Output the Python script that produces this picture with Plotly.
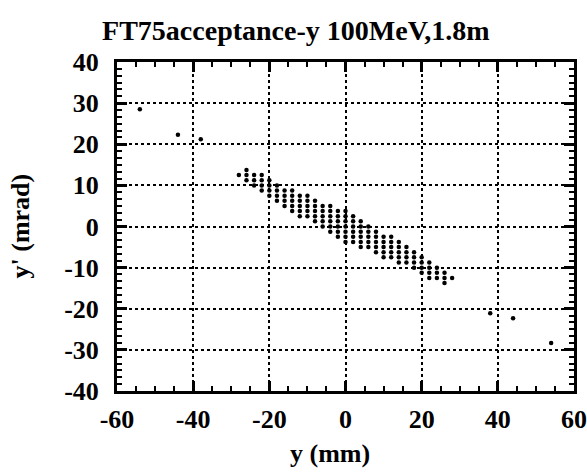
import plotly.graph_objects as go

# ---- data ----
# dense band: one entry per column (y in mm) with the accepted y' values (mrad)
BAND_X = [-28, -26, -24, -22, -20, -18, -16, -14, -12, -10, -8, -6, -4, -2, 0,
          2, 4, 6, 8, 10, 12, 14, 16, 18, 20, 22, 24, 26, 28]
BAND_YP = [
    [12.5],
    [13.75, 12.5, 11.25],
    [12.5, 11.25, 10.0],
    [12.5, 11.25, 10.0, 8.75],
    [11.25, 10.0, 8.75, 7.5],
    [10.0, 8.75, 7.5, 6.25],
    [8.75, 7.5, 6.25, 5.0],
    [8.75, 7.5, 6.25, 5.0, 3.75],
    [7.5, 6.25, 5.0, 3.75, 2.5],
    [7.5, 6.25, 5.0, 3.75, 2.5],
    [6.25, 5.0, 3.75, 2.5, 1.25],
    [5.0, 3.75, 2.5, 1.25, 0.0],
    [5.0, 3.75, 2.5, 1.25, 0.0, -1.25],
    [3.75, 2.5, 1.25, 0.0, -1.25, -2.5],
    [3.75, 2.5, 1.25, 0.0, -1.25, -2.5, -3.75],
    [2.5, 1.25, 0.0, -1.25, -2.5, -3.75],
    [1.25, 0.0, -1.25, -2.5, -3.75, -5.0],
    [0.0, -1.25, -2.5, -3.75, -5.0],
    [-1.25, -2.5, -3.75, -5.0, -6.25],
    [-2.5, -3.75, -5.0, -6.25, -7.5],
    [-2.5, -3.75, -5.0, -6.25, -7.5],
    [-3.75, -5.0, -6.25, -7.5, -8.75],
    [-5.0, -6.25, -7.5, -8.75],
    [-6.25, -7.5, -8.75, -10.0],
    [-7.5, -8.75, -10.0, -11.25],
    [-8.75, -10.0, -11.25, -12.5],
    [-10.0, -11.25, -12.5],
    [-11.25, -12.5, -13.75],
    [-12.5],
]
# isolated points far from the band
ISO_X = [-54, -44, -38, 38, 44, 54]
ISO_YP = [28.5, 22.3, 21.2, -21.1, -22.3, -28.3]

TITLE = "FT75acceptance-y 100MeV,1.8m"
X_LABEL = "y (mm)"
Y_LABEL = "y' (mrad)"
X_TICKS = [-60, -40, -20, 0, 20, 40, 60]
Y_TICKS = [-40, -30, -20, -10, 0, 10, 20, 30, 40]

FONT = "Liberation Serif, Times New Roman, serif"

xs, ys = [], []
for x, col in zip(BAND_X, BAND_YP):
    for v in col:
        xs.append(x)
        ys.append(v)
xs += ISO_X
ys += ISO_YP

fig = go.Figure()
fig.add_trace(go.Scatter(x=xs, y=ys, mode="markers",
                         marker=dict(color="black", size=4.5, line=dict(width=0)),
                         showlegend=False, hoverinfo="skip"))

axis_common = dict(
    showline=True, linecolor="black", linewidth=3, mirror="allticks",
    ticks="inside", ticklen=10, tickwidth=2.5, tickcolor="black",
    showgrid=True, gridcolor="black", gridwidth=1.5, griddash="dot",
    zeroline=False, automargin=False,
    tickfont=dict(family=FONT, size=26, color="black", weight="bold"),
)

fig.update_xaxes(range=[-60, 60], tickvals=X_TICKS, ticktext=[str(v) for v in X_TICKS],
                 minor=dict(dtick=5, tick0=-60, ticks="inside", ticklen=5, tickwidth=2,
                            tickcolor="black", showgrid=False),
                 ticklabelstandoff=3, **axis_common)
fig.update_yaxes(range=[-40, 40], tickvals=Y_TICKS, ticktext=[str(v) for v in Y_TICKS],
                 minor=dict(dtick=10 / 6, tick0=-40, ticks="inside", ticklen=5, tickwidth=2,
                            tickcolor="black", showgrid=False),
                 ticklabelstandoff=10, **axis_common)

fig.update_layout(
    width=587, height=473,
    margin=dict(l=117, r=13, t=62, b=82),
    paper_bgcolor="white", plot_bgcolor="white",
    title=dict(text=TITLE, x=0.504, xref="container", xanchor="center",
               y=1 - 30 / 473, yref="container", yanchor="middle",
               font=dict(family=FONT, size=28, color="black", weight="bold"),
               automargin=False),
    annotations=[
        dict(text=X_LABEL, xref="paper", yref="paper", x=(330 - 117) / 457, y=0,
             yshift=-62, xanchor="center", yanchor="middle", showarrow=False,
             font=dict(family=FONT, size=26, color="black", weight="bold")),
        dict(text=Y_LABEL, xref="paper", yref="paper", x=0, y=0.5, xshift=-97,
             xanchor="center", yanchor="middle", textangle=-90, showarrow=False,
             font=dict(family=FONT, size=26, color="black", weight="bold")),
    ],
)

fig.write_html("out.html")
